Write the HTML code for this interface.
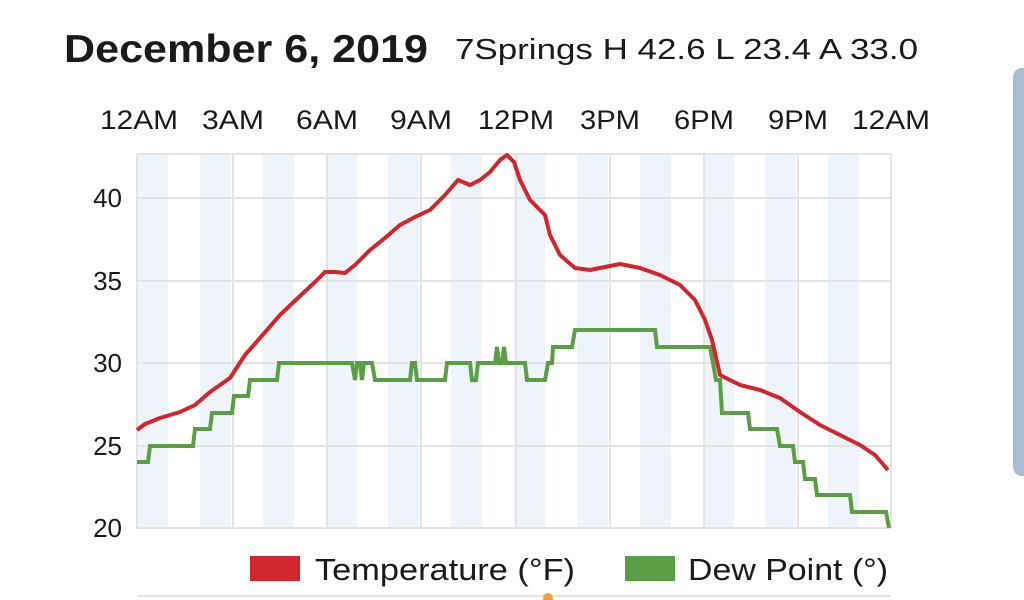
<!DOCTYPE html>
<html><head><meta charset="utf-8"><style>
html,body{margin:0;padding:0;background:#fff;width:1024px;height:600px;overflow:hidden;font-family:"Liberation Sans",Roboto,sans-serif;}
</style></head><body>
<svg width="1024" height="600" xmlns="http://www.w3.org/2000/svg" font-family="Liberation Sans, sans-serif">
<rect width="1024" height="600" fill="#fff"/>
<rect x="1013" y="68" width="20" height="408" rx="9" fill="#a9bdd1"/>
<text x="64" y="62" font-size="39" font-weight="bold" fill="#1a1a1a" textLength="364" lengthAdjust="spacingAndGlyphs">December 6, 2019</text>
<text x="455" y="59" font-size="29" fill="#1a1a1a" textLength="463" lengthAdjust="spacingAndGlyphs">7Springs H 42.6 L 23.4 A 33.0</text>
<g font-size="27" fill="#1a1a1a" text-anchor="middle">
<text x="139" y="129" textLength="78" lengthAdjust="spacingAndGlyphs">12AM</text><text x="233" y="129" textLength="62" lengthAdjust="spacingAndGlyphs">3AM</text><text x="327" y="129" textLength="62" lengthAdjust="spacingAndGlyphs">6AM</text><text x="421" y="129" textLength="62" lengthAdjust="spacingAndGlyphs">9AM</text><text x="516" y="129" textLength="76" lengthAdjust="spacingAndGlyphs">12PM</text><text x="610" y="129" textLength="60" lengthAdjust="spacingAndGlyphs">3PM</text><text x="704" y="129" textLength="60" lengthAdjust="spacingAndGlyphs">6PM</text><text x="798" y="129" textLength="60" lengthAdjust="spacingAndGlyphs">9PM</text><text x="891" y="129" textLength="78" lengthAdjust="spacingAndGlyphs">12AM</text>
</g>
<g fill="#eef4fa">
<rect x="137" y="154" width="31" height="374"/><rect x="200" y="154" width="31" height="374"/><rect x="263" y="154" width="31" height="374"/><rect x="326" y="154" width="31" height="374"/><rect x="388" y="154" width="31" height="374"/><rect x="451" y="154" width="31" height="374"/><rect x="514" y="154" width="31" height="374"/><rect x="577" y="154" width="31" height="374"/><rect x="640" y="154" width="31" height="374"/><rect x="703" y="154" width="31" height="374"/><rect x="765" y="154" width="31" height="374"/><rect x="828" y="154" width="31" height="374"/>
</g>
<g stroke="#e4e4e4" stroke-width="2" fill="none">
<line x1="137" y1="198" x2="891" y2="198"/><line x1="137" y1="281" x2="891" y2="281"/><line x1="137" y1="363" x2="891" y2="363"/><line x1="137" y1="446" x2="891" y2="446"/><line x1="137" y1="528" x2="891" y2="528"/>
<line x1="137" y1="154" x2="891" y2="154"/>
<line x1="137" y1="154" x2="137" y2="528"/><line x1="233" y1="154" x2="233" y2="528"/><line x1="327" y1="154" x2="327" y2="528"/><line x1="421" y1="154" x2="421" y2="528"/><line x1="516" y1="154" x2="516" y2="528"/><line x1="610" y1="154" x2="610" y2="528"/><line x1="704" y1="154" x2="704" y2="528"/><line x1="798" y1="154" x2="798" y2="528"/><line x1="891" y1="154" x2="891" y2="528"/>
</g>
<g font-size="26" fill="#1a1a1a" text-anchor="end">
<text x="122" y="207">40</text><text x="122" y="290">35</text><text x="122" y="372">30</text><text x="122" y="455">25</text><text x="122" y="537">20</text>
</g>
<polyline fill="none" stroke="#5a9e45" stroke-width="4" points="137,462 148,462 150,446 193,446 195,429 210,429 212,413 232,413 234,396 248,396 250,380 277,380 279,363 352,363 355,380 357,363 360,363 362,380 364,363 372,363 375,380 410,380 412,363 415,363 417,380 445,380 447,363 470,363 472,380 476,380 478,363 495,363 497,347 499,363 502,363 504,347 506,363 525,363 527,380 545,380 548,363 552,363 553,347 572,347 575,330 655,330 657,347 710,347 713,363 716,380 720,380 722,413 748,413 750,429 777,429 780,446 793,446 795,462 803,462 805,479 815,479 817,495 850,495 852,512 886,512 889,528"/>
<polyline fill="none" stroke="#d0262c" stroke-width="4" stroke-linejoin="round" points="137,430 145,424 160,418 180,412 195,405 210,392 230,378 245,355 260,338 280,315 300,296 315,282 325,272 335,272 345,273 355,265 370,250 385,238 400,225 415,217 430,210 445,195 458,180 470,185 480,180 490,172 500,160 507,155 514,162 520,180 530,200 545,215 550,235 560,255 575,268 590,270 620,264 640,268 660,275 680,285 695,300 705,320 712,340 720,375 740,385 760,390 780,398 800,412 820,425 840,435 860,445 875,455 888,470"/>
<rect x="250" y="556" width="50" height="25" fill="#d0262c"/>
<text x="315" y="580" font-size="31" fill="#1a1a1a" textLength="260" lengthAdjust="spacingAndGlyphs">Temperature (°F)</text>
<rect x="625" y="556" width="50" height="25" fill="#5a9e45"/>
<text x="688" y="580" font-size="31" fill="#1a1a1a" textLength="200" lengthAdjust="spacingAndGlyphs">Dew Point (°)</text>
<line x1="137" y1="596" x2="891" y2="596" stroke="#e4e4e4" stroke-width="2"/>
<circle cx="548" cy="598" r="5" fill="#f0a040"/>
</svg>
</body></html>
